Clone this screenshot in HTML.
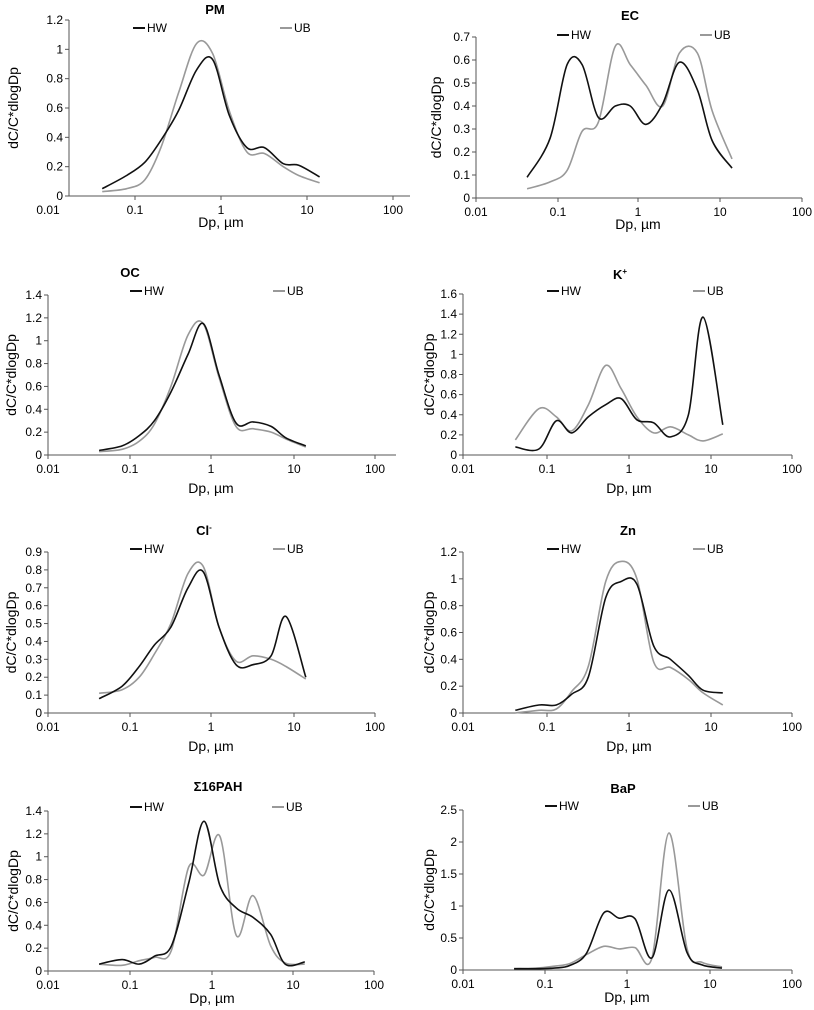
<!DOCTYPE html>
<html><head><meta charset="utf-8"><style>
html,body{margin:0;padding:0;background:#fff;width:814px;height:1010px;overflow:hidden}
svg{display:block;font-family:"Liberation Sans",sans-serif}
</style></head><body>
<svg id="chart" width="814" height="1010" viewBox="0 0 814 1010"></svg>
<script>
const sizes = [0.042,0.08,0.13,0.2,0.32,0.52,0.8,1.25,2,3.2,5.3,8,14];
const xTickLabels = ["0.01","0.1","1","10","100"];
const pmHW = [0.05,0.14,0.23,0.38,0.58,0.86,0.93,0.55,0.33,0.33,0.22,0.21,0.13];
const pmUB = [0.03,0.05,0.11,0.33,0.70,1.04,0.97,0.58,0.30,0.29,0.20,0.14,0.09];
const ecHW = [0.09,0.26,0.58,0.58,0.35,0.40,0.40,0.32,0.41,0.59,0.47,0.25,0.13];
const ecUB = [0.04,0.07,0.12,0.29,0.33,0.66,0.58,0.49,0.40,0.63,0.63,0.38,0.17];
const ocHW = [0.04,0.08,0.17,0.30,0.55,0.88,1.15,0.70,0.28,0.29,0.25,0.15,0.08];
const ocUB = [0.03,0.05,0.12,0.27,0.60,1.05,1.15,0.68,0.25,0.23,0.20,0.14,0.07];
const kHW = [0.08,0.06,0.34,0.22,0.38,0.50,0.56,0.35,0.32,0.18,0.40,1.37,0.30];
const kUB = [0.15,0.46,0.38,0.24,0.50,0.89,0.66,0.38,0.22,0.28,0.20,0.14,0.21];
const clHW = [0.08,0.15,0.26,0.38,0.48,0.70,0.79,0.48,0.27,0.27,0.32,0.54,0.20];
const clUB = [0.11,0.13,0.20,0.33,0.50,0.78,0.82,0.48,0.29,0.32,0.30,0.26,0.19];
const znHW = [0.02,0.06,0.06,0.14,0.27,0.86,0.98,0.96,0.50,0.40,0.28,0.17,0.15];
const znUB = [0.00,0.02,0.03,0.16,0.35,0.98,1.13,1.00,0.38,0.34,0.25,0.15,0.06];
const pahHW = [0.06,0.10,0.06,0.13,0.22,0.77,1.31,0.75,0.55,0.47,0.32,0.06,0.08];
const pahUB = [0.06,0.05,0.09,0.12,0.18,0.91,0.84,1.18,0.31,0.66,0.22,0.07,0.06];
const bapHW = [0.02,0.02,0.03,0.07,0.26,0.89,0.81,0.80,0.19,1.25,0.27,0.08,0.03];
const bapUB = [0.02,0.03,0.06,0.10,0.24,0.37,0.33,0.35,0.19,2.14,0.33,0.12,0.05];

const NS="http://www.w3.org/2000/svg";
const svg=document.getElementById('chart');
function mk(tag,attrs,parent,text){const e=document.createElementNS(NS,tag);for(const k in attrs)e.setAttribute(k,attrs[k]);if(text!==undefined)e.textContent=text;(parent||svg).appendChild(e);return e;}

const panels=[
 {id:'pm',title:'PM',hw:pmHW,ub:pmUB,ax:69,dec:[48,135,221,307,393],xEnd:410,y0:196,yT:20,ymax:1.2,step:0.2,tx:215,ty:14,lh:133,lu:280,ly:28,ytx:14,xto:31},
 {id:'ec',title:'EC',hw:ecHW,ub:ecUB,ax:476,dec:[476,558,638,720,802],xEnd:802,y0:198,yT:37,ymax:0.7,step:0.1,tx:630,ty:20,lh:557,lu:700,ly:35,ytx:437,xto:31},
 {id:'oc',title:'OC',hw:ocHW,ub:ocUB,ax:48,dec:[48,130,211,294,375],xEnd:396,y0:455,yT:295,ymax:1.4,step:0.2,tx:130,ty:277,lh:130,lu:273,ly:291,ytx:12,xto:38},
 {id:'k',title:'K',sup:'+',hw:kHW,ub:kUB,ax:463,dec:[463,547,629,711,792],xEnd:792,y0:455,yT:294,ymax:1.6,step:0.2,tx:620,ty:279,lh:547,lu:693,ly:291,ytx:430,xto:38},
 {id:'cl',title:'Cl',sup:'-',hw:clHW,ub:clUB,ax:48,dec:[48,130,211,294,375],xEnd:375,y0:713,yT:552,ymax:0.9,step:0.1,tx:204,ty:535,lh:130,lu:273,ly:549,ytx:12,xto:38},
 {id:'zn',title:'Zn',hw:znHW,ub:znUB,ax:463,dec:[463,547,629,711,792],xEnd:792,y0:713,yT:552,ymax:1.2,step:0.2,tx:628,ty:535,lh:547,lu:693,ly:549,ytx:430,xto:38},
 {id:'pah',title:'Σ16PAH',hw:pahHW,ub:pahUB,ax:48,dec:[48,130,212,293,374],xEnd:374,y0:971,yT:811,ymax:1.4,step:0.2,tx:218,ty:791,lh:130,lu:272,ly:807,ytx:14,xto:32},
 {id:'bap',title:'BaP',hw:bapHW,ub:bapUB,ax:463,dec:[463,545,627,710,792],xEnd:792,y0:970,yT:810,ymax:2.5,step:0.5,tx:623,ty:793,lh:545,lu:688,ly:806,ytx:430,xto:32}
];

function smoothPath(pts){
  let d=`M${pts[0][0]},${pts[0][1]}`;
  for(let i=0;i<pts.length-1;i++){
    const p0=pts[i-1]||pts[i],p1=pts[i],p2=pts[i+1],p3=pts[i+2]||p2;
    const c1=[p1[0]+(p2[0]-p0[0])/6,p1[1]+(p2[1]-p0[1])/6];
    const c2=[p2[0]-(p3[0]-p1[0])/6,p2[1]-(p3[1]-p1[1])/6];
    d+=` C${c1[0].toFixed(1)},${c1[1].toFixed(1)} ${c2[0].toFixed(1)},${c2[1].toFixed(1)} ${p2[0].toFixed(1)},${p2[1].toFixed(1)}`;
  }
  return d;
}

panels.forEach(p=>{
  const g=mk('g',{});
  
  
  const xs=v=>{const l=Math.log10(v)+2;const i=Math.max(0,Math.min(3,Math.floor(l)));return p.dec[i]+(l-i)*(p.dec[i+1]-p.dec[i]);};
  const ys=v=>p.y0-(v/p.ymax)*(p.y0-p.yT);
  const t=mk('text',{x:p.tx,y:p.ty,'text-anchor':'middle','font-size':13,'font-weight':'bold'},g,p.title);
  
  
  if(p.sup){mk('tspan',{dy:-5,'font-size':8},t,p.sup);}
  const ya=mk('line',{x1:p.ax,y1:p.yT,x2:p.ax,y2:p.y0,stroke:'#555','stroke-width':1},g);
  
  
  const xa=mk('line',{x1:p.ax,y1:p.y0,x2:p.xEnd,y2:p.y0,stroke:'#555','stroke-width':1},g);
  
  
  const n=Math.round(p.ymax/p.step);
  for(let i=0;i<=n;i++){
    const v=i*p.step,y=ys(v);
    mk('line',{x1:p.ax-4,y1:y,x2:p.ax,y2:y,stroke:'#555'},g);
    const lab=mk('text',{x:p.ax-6,y:y+4,'text-anchor':'end','font-size':12},g,String(+v.toFixed(2)));
    
    
  }
  xTickLabels.forEach((s,i)=>{
    const x=p.dec[i];
    if(x>=p.ax) mk('line',{x1:x,y1:p.y0,x2:x,y2:p.y0+4,stroke:'#555'},g);
    const lab=mk('text',{x:x,y:p.y0+18,'text-anchor':'middle','font-size':12},g,s);
    
    
  });
  const xt=mk('text',{x:p.dec[2],y:p.y0+p.xto,'text-anchor':'middle','font-size':14},g,'Dp, µm');
  
  
  const ymid=(p.y0+p.yT)/2;
  const yt=mk('text',{x:p.ytx,y:ymid,'text-anchor':'middle','font-size':14,transform:`rotate(-90 ${p.ytx} ${ymid})`,dy:4},g,'dC/C*dlogDp');
  
  
  const ub=mk('path',{d:smoothPath(sizes.map((s,i)=>[xs(s),ys(p.ub[i])])),fill:'none',stroke:'#999','stroke-width':1.6},g);
  
  
  const hw=mk('path',{d:smoothPath(sizes.map((s,i)=>[xs(s),ys(p.hw[i])])),fill:'none',stroke:'#111','stroke-width':1.6},g);
  
  
  const l1=mk('g',{},g);
  
  
  mk('line',{x1:p.lh,y1:p.ly,x2:p.lh+12,y2:p.ly,stroke:'#111','stroke-width':2},l1);
  mk('text',{x:p.lh+14,y:p.ly+4,'font-size':12},l1,'HW');
  const l2=mk('g',{},g);
  
  
  mk('line',{x1:p.lu,y1:p.ly,x2:p.lu+12,y2:p.ly,stroke:'#999','stroke-width':2},l2);
  mk('text',{x:p.lu+14,y:p.ly+4,'font-size':12},l2,'UB');
});
</script>
</body></html>
